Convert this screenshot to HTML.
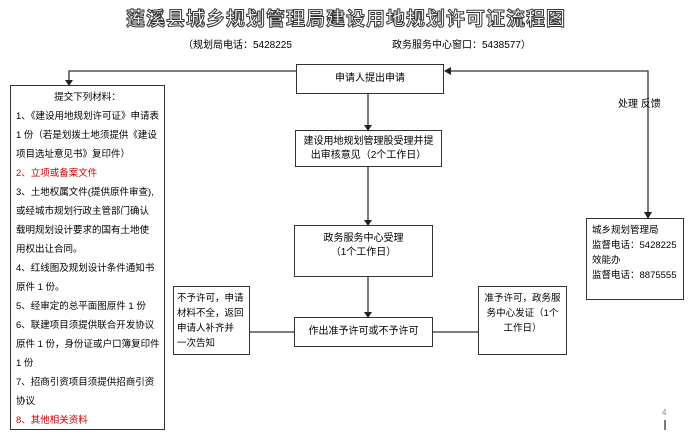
<!DOCTYPE html><html><head><meta charset="utf-8"><style>
body{margin:0;width:692px;height:437px;background:#fff;position:relative;overflow:hidden;font-family:"Liberation Sans","Noto Sans CJK SC",sans-serif;color:#000}
.a{position:absolute}
.b{position:absolute;border:1.5px solid #333;box-sizing:border-box;background:#fff;font-size:10px;line-height:14px;white-space:nowrap}
.r{color:#c00}
</style></head><body>
<div class="a" style="left:0;width:692px;top:4px;text-align:center;font-size:19px;font-weight:bold;color:#fff;-webkit-text-stroke:1px #333;letter-spacing:1px">莲溪县城乡规划管理局建设用地规划许可证流程图</div>
<div class="a" style="left:183px;top:36px;font-size:10px">（规划局电话：5428225</div>
<div class="a" style="left:392px;top:36px;font-size:10px">政务服务中心窗口：5438577）</div>
<svg class="a" style="left:0;top:0" width="692" height="437">
<g stroke="#333" stroke-width="1.3" fill="none">
<polyline points="296,71 69,71 69,82"/>
<polyline points="648,218 648,71 450,71"/>
<line x1="368" y1="93" x2="368" y2="127"/>
<line x1="368" y1="167" x2="368" y2="222"/>
<line x1="368" y1="277" x2="368" y2="314"/>
<line x1="250" y1="332" x2="294" y2="332"/>
<line x1="433" y1="332" x2="478" y2="332"/>
<line x1="665" y1="420" x2="665" y2="430"/>
</g>
<g fill="#222">
<polygon points="65,80 73,80 69,86"/>
<polygon points="644,212 652,212 648,219"/>
<polygon points="444,71 451,67 451,75"/>
<polygon points="364,125 372,125 368,131"/>
<polygon points="364,220 372,220 368,226"/>
<polygon points="364,312 372,312 368,318"/>
</g>
</svg>
<div class="b" style="left:296px;top:64px;width:148px;height:30px;text-align:center;padding-top:7px">申请人提出申请</div>
<div class="b" style="left:295px;top:130px;width:147px;height:37px;text-align:center;padding:4px 0 0">建设用地规划管理股受理并提<br>出审核意见（2个工作日）</div>
<div class="b" style="left:294px;top:225px;width:139px;height:52px;text-align:center;padding-top:6px">政务服务中心受理<br>（1个工作日）</div>
<div class="b" style="left:294px;top:317px;width:139px;height:30px;text-align:center;padding-top:7px">作出准予许可或不予许可</div>
<div class="b" style="left:173px;top:286px;width:77px;height:69px;padding:4px 3px;line-height:15px;font-size:9.5px">不予许可，申请<br>材料不全，返回<br>申请人补齐并<br>一次告知</div>
<div class="b" style="left:478px;top:286px;width:89px;height:69px;padding:4px 3px;text-align:center;line-height:15px;font-size:9.5px">准予许可，政务服<br>务中心发证（1个<br>工作日）</div>
<div class="b" style="left:586px;top:218px;width:98px;height:82px;padding:4px 5px;line-height:15px;font-size:9.5px">城乡规划管理局<br>监督电话：5428225<br>效能办<br>监督电话：8875555</div>
<div class="a" style="left:618px;top:95px;font-size:10px">处理&nbsp;反馈</div>
<div class="b" style="left:10px;top:85px;width:155px;height:345px;padding:2px 5px;line-height:19px;font-size:9.5px">
<div style="text-align:center">提交下列材料：</div>
1、《建设用地规划许可证》申请表<br>
1 份（若是划拨土地须提供《建设<br>
项目选址意见书》复印件）<br>
<span class="r">2、立项或备案文件</span><br>
3、土地权属文件(提供原件审查),<br>
或经城市规划行政主管部门确认<br>
载明规划设计要求的国有土地使<br>
用权出让合同。<br>
4、红线图及规划设计条件通知书<br>
原件 1 份。<br>
5、经审定的总平面图原件 1 份<br>
6、联建项目须提供联合开发协议<br>
原件 1 份，身份证或户口簿复印件<br>
1 份<br>
7、招商引资项目须提供招商引资<br>
协议<br>
<span class="r">8、其他相关资料</span>
</div>
<div class="a" style="left:662px;top:408px;font-size:8px;color:#888">4</div>
</body></html>
